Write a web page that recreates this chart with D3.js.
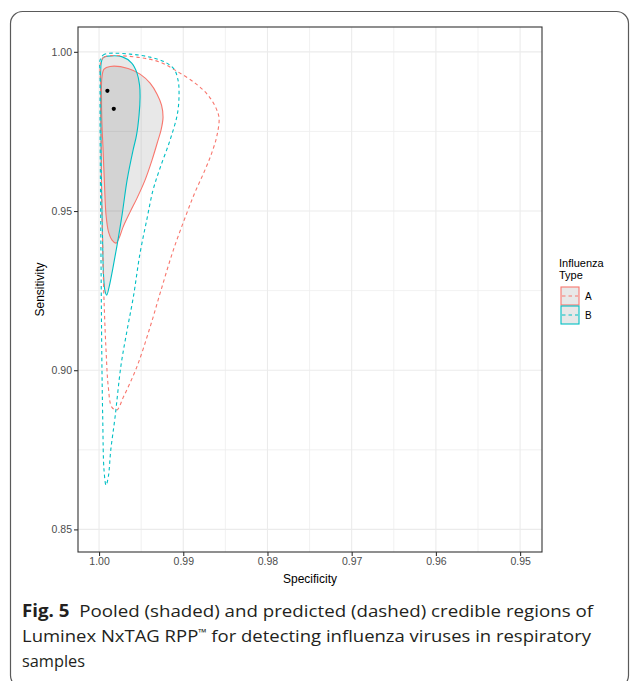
<!DOCTYPE html>
<html>
<head>
<meta charset="utf-8">
<script src="https://cdn.jsdelivr.net/npm/d3@7"></script>
<style>
  html, body { margin: 0; padding: 0; background: #fff; }
  svg { display: block; }
</style>
</head>
<body>
<svg id="chart" width="630" height="681"></svg>
<script>
// ---------- data (specificity, sensitivity) ----------
const xTicks = [1.00, 0.99, 0.98, 0.97, 0.96, 0.95];
const xMinor = [0.995, 0.985, 0.975, 0.965, 0.955];
const yTicks = [0.85, 0.90, 0.95, 1.00];
const yMinor = [0.875, 0.925, 0.975];
const seriesNames = ["A", "B"];
const seriesColors = ["#F8766D", "#00BFC4"];

const pooledA = [
  [0.99941,0.99457],[0.99869,0.99541],[0.99656,0.99479],[0.99513,0.99300],[0.99394,0.99017],
  [0.99311,0.98671],[0.99258,0.98326],[0.99240,0.97949],[0.99264,0.97541],[0.99299,0.97227],
  [0.99371,0.96599],[0.99454,0.95970],[0.99549,0.95405],[0.99632,0.94965],[0.99715,0.94494],
  [0.99762,0.94149],[0.99798,0.93992],[0.99846,0.94086],[0.99887,0.94337],[0.99917,0.94871],
  [0.99935,0.95813],[0.99952,0.96913],[0.99967,0.97855],[0.99971,0.98640],[0.99967,0.99174]
];
const pooledB = [
  [0.99952,0.99818],[0.99893,0.99865],[0.99730,0.99849],[0.99612,0.99645],[0.99549,0.99331],
  [0.99519,0.98954],[0.99513,0.98577],[0.99525,0.98012],[0.99555,0.97384],[0.99596,0.96913],
  [0.99667,0.95970],[0.99727,0.94871],[0.99786,0.93929],[0.99840,0.93144],[0.99881,0.92610],
  [0.99909,0.92359],[0.99929,0.92484],[0.99947,0.92987],[0.99958,0.94086],[0.99970,0.95656],
  [0.99976,0.97227],[0.99980,0.98483],[0.99980,0.99425],[0.99973,0.99677]
];
const predictedA = [
  [0.99980,0.99677],[0.99941,0.99834],[0.99869,0.99881],[0.99513,0.99818],[0.99276,0.99677],
  [0.99097,0.99425],[0.98860,0.99017],[0.98706,0.98640],[0.98611,0.98232],[0.98575,0.97918],
  [0.98599,0.97384],[0.98658,0.96850],[0.98753,0.96222],[0.98860,0.95594],[0.98958,0.94934],
  [0.99118,0.93772],[0.99264,0.92516],[0.99394,0.91354],[0.99552,0.90097],[0.99711,0.89155],
  [0.99790,0.88747],[0.99849,0.88841],[0.99890,0.89469],[0.99917,0.90631],[0.99941,0.92202],
  [0.99956,0.93772],[0.99968,0.95342],[0.99976,0.97227],[0.99980,0.98797]
];
const predictedB = [
  [0.99988,0.99739],[0.99952,0.99896],[0.99893,0.99950],[0.99632,0.99928],[0.99394,0.99834],
  [0.99216,0.99677],[0.99109,0.99457],[0.99062,0.99111],[0.99050,0.98734],[0.99068,0.98075],
  [0.99157,0.97227],[0.99276,0.96347],[0.99359,0.95656],[0.99434,0.94714],[0.99513,0.93678],
  [0.99593,0.92296],[0.99667,0.91259],[0.99739,0.90160],[0.99810,0.88527],[0.99861,0.87490],
  [0.99890,0.86652],[0.99917,0.86391],[0.99941,0.86862],[0.99956,0.88433],[0.99968,0.90631],
  [0.99976,0.93238],[0.99982,0.95342],[0.99988,0.97855],[0.99988,0.99268]
];
const pooledPoints = [[0.99901,0.98775],[0.99825,0.98210]];

const xTitle = "Specificity";
const yTitle = "Sensitivity";
const legendTitle = ["Influenza", "Type"];
const captionBold = "Fig. 5";
const captionLines = [
  "Pooled (shaded) and predicted (dashed) credible regions of",
  "Luminex NxTAG RPP",
  "™",
  " for detecting influenza viruses in respiratory",
  "samples"
];

// ---------- layout ----------
const svg = d3.select("#chart");
const panel = {left: 78, right: 542, top: 27, bottom: 552};
const font = "'Liberation Sans', Arial, sans-serif";

// outer rounded frame (figure box)
svg.append("rect")
  .attr("x", 10.5).attr("y", 11.5).attr("width", 618).attr("height", 676)
  .attr("rx", 12).attr("ry", 12)
  .attr("fill", "none").attr("stroke", "#5a5a5a").attr("stroke-width", 1.2);

const x = d3.scaleLinear().domain([1.0025, 0.9474]).range([panel.left, panel.right]);
const y = d3.scaleLinear().domain([0.8429, 1.0078]).range([panel.bottom, panel.top]);

svg.append("rect")
  .attr("x", panel.left).attr("y", panel.top)
  .attr("width", panel.right - panel.left).attr("height", panel.bottom - panel.top)
  .attr("fill", "#fff");

const grid = svg.append("g");
grid.selectAll(".xminor").data(xMinor).join("line")
  .attr("x1", d => x(d)).attr("x2", d => x(d))
  .attr("y1", panel.top).attr("y2", panel.bottom)
  .attr("stroke", "#ededed").attr("stroke-width", 0.8);
grid.selectAll(".yminor").data(yMinor).join("line")
  .attr("y1", d => y(d)).attr("y2", d => y(d))
  .attr("x1", panel.left).attr("x2", panel.right)
  .attr("stroke", "#ededed").attr("stroke-width", 0.8);
grid.selectAll(".xmajor").data(xTicks).join("line")
  .attr("x1", d => x(d)).attr("x2", d => x(d))
  .attr("y1", panel.top).attr("y2", panel.bottom)
  .attr("stroke", "#ebebeb").attr("stroke-width", 1.1);
grid.selectAll(".ymajor").data(yTicks).join("line")
  .attr("y1", d => y(d)).attr("y2", d => y(d))
  .attr("x1", panel.left).attr("x2", panel.right)
  .attr("stroke", "#ebebeb").attr("stroke-width", 1.1);

// regions
const line = d3.line().x(d => x(d[0])).y(d => y(d[1])).curve(d3.curveCatmullRomClosed.alpha(0.5));
svg.append("clipPath").attr("id", "pclip").append("rect")
  .attr("x", panel.left).attr("y", panel.top)
  .attr("width", panel.right - panel.left).attr("height", panel.bottom - panel.top);
const plot = svg.append("g").attr("clip-path", "url(#pclip)");

const pooled = [pooledA, pooledB];
const predicted = [predictedA, predictedB];

plot.selectAll(".pfill").data(pooled).join("path")
  .attr("d", d => line(d))
  .attr("fill", "#000").attr("fill-opacity", 0.09).attr("stroke", "none");
plot.selectAll(".pline").data(pooled).join("path")
  .attr("d", d => line(d))
  .attr("fill", "none").attr("stroke", (d, i) => seriesColors[i]).attr("stroke-width", 1.1);
plot.selectAll(".prline").data(predicted).join("path")
  .attr("d", d => line(d))
  .attr("fill", "none").attr("stroke", (d, i) => seriesColors[i])
  .attr("stroke-width", 1.1).attr("stroke-dasharray", "3.5,3");
plot.selectAll(".pt").data(pooledPoints).join("circle")
  .attr("cx", d => x(d[0])).attr("cy", d => y(d[1])).attr("r", 2.1).attr("fill", "#000");

svg.append("rect")
  .attr("x", panel.left).attr("y", panel.top)
  .attr("width", panel.right - panel.left).attr("height", panel.bottom - panel.top)
  .attr("fill", "none").attr("stroke", "#333").attr("stroke-width", 1.1);

// axes
const xAxis = svg.append("g").attr("transform", `translate(0,${panel.bottom})`)
  .call(d3.axisBottom(x).tickValues(xTicks).tickFormat(d3.format(".2f")).tickSize(4).tickPadding(2));
const yAxis = svg.append("g").attr("transform", `translate(${panel.left},0)`)
  .call(d3.axisLeft(y).tickValues(yTicks).tickFormat(d3.format(".2f")).tickSize(4).tickPadding(2));
[xAxis, yAxis].forEach(a => {
  a.select(".domain").remove();
  a.selectAll(".tick line").attr("stroke", "#333").attr("stroke-width", 1.1);
  a.selectAll(".tick text").attr("fill", "#4d4d4d").style("font-family", font).style("font-size", "10.5px");
});

svg.append("text").text(xTitle)
  .attr("x", (panel.left + panel.right) / 2).attr("y", 583)
  .attr("text-anchor", "middle").style("font-family", font).style("font-size", "12px").attr("fill", "#000");
svg.append("text").text(yTitle)
  .attr("transform", `translate(44,${(panel.top + panel.bottom) / 2}) rotate(-90)`)
  .attr("text-anchor", "middle").style("font-family", font).style("font-size", "12px").attr("fill", "#000");

// legend
const lg = svg.append("g");
legendTitle.forEach((t, i) => {
  lg.append("text").text(t).attr("x", 559).attr("y", 267 + i * 12)
    .style("font-family", font).style("font-size", "11px").attr("fill", "#000");
});
seriesNames.forEach((name, i) => {
  const ky = 287 + i * 19;
  lg.append("rect").attr("x", 561).attr("y", ky).attr("width", 18).attr("height", 18)
    .attr("fill", "#000").attr("fill-opacity", 0.09)
    .attr("stroke", seriesColors[i]).attr("stroke-width", 1.1);
  lg.append("line").attr("x1", 562).attr("x2", 578).attr("y1", ky + 9).attr("y2", ky + 9)
    .attr("stroke", seriesColors[i]).attr("stroke-width", 1.1).attr("stroke-dasharray", "3.5,3");
  lg.append("text").text(name).attr("x", 585).attr("y", ky + 13)
    .style("font-family", font).style("font-size", "10px").attr("fill", "#000");
});

// caption
const capFont = "'Open Sans', 'Noto Sans', sans-serif";
const capColor = "#231f20";
const cap1 = svg.append("text").attr("x", 22).attr("y", 617)
  .style("font-family", capFont).style("font-size", "17px").attr("fill", capColor)
  .attr("textLength", 571).attr("lengthAdjust", "spacingAndGlyphs");
cap1.append("tspan").text(captionBold).style("font-weight", "bold");
cap1.append("tspan").text("\u00a0 " + captionLines[0]);
const cap2 = svg.append("text").attr("x", 22).attr("y", 642)
  .style("font-family", capFont).style("font-size", "17px").attr("fill", capColor)
  .attr("textLength", 569).attr("lengthAdjust", "spacingAndGlyphs");
cap2.append("tspan").text(captionLines[1]);
cap2.append("tspan").text(captionLines[2]).attr("dy", -6).style("font-size", "10px");
cap2.append("tspan").text(captionLines[3]).attr("dy", 6);
svg.append("text").attr("x", 22).attr("y", 667).text(captionLines[4])
  .style("font-family", capFont).style("font-size", "17px").attr("fill", capColor)
  .attr("textLength", 63).attr("lengthAdjust", "spacingAndGlyphs");
</script>
</body>
</html>
